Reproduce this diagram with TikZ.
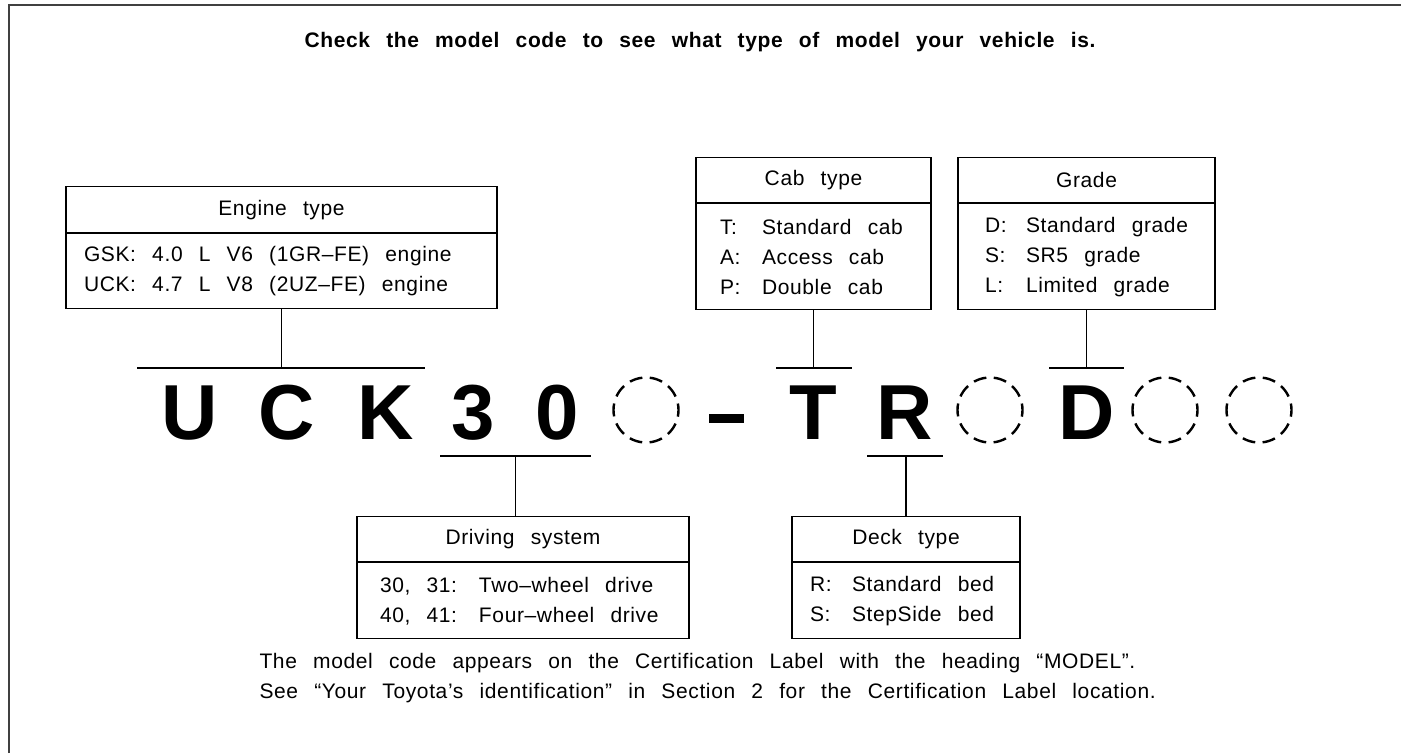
\documentclass[tikz,border=0pt]{standalone}
\usepackage{fontspec}
\setmainfont{Liberation Sans}
\newfontfamily\labelfont[LetterSpace=3,WordSpace=2.5]{Liberation Sans}
\usetikzlibrary{positioning}

\newcommand\keycol[2]{\makebox[#1][l]{#2}}

\begin{document}
\begin{tikzpicture}[
    x=1pt, y=-1pt,
    every node/.style={font=\fontsize{21}{30}\labelfont},
    headbox/.style={rectangle, draw, line width=1.2pt, inner sep=0pt, anchor=north, text centered},
    bodybox/.style={rectangle, draw, line width=1.2pt, anchor=north, align=flush left, inner ysep=0pt},
    codechar/.style={inner sep=0pt, anchor=base, font=\fontsize{78}{78}\normalfont\bfseries},
    slot/.style={circle, minimum size=65pt, inner sep=0pt, line width=2.4pt, dash pattern=on 13pt off 7.4pt, dash phase=6.5pt},
    link/.style={line width=1.2pt}
]
\useasboundingbox (0,0) rectangle (1401,753);

% frame
\draw[line width=2pt, black!75] (9,753) -- (9,5) -- (1401,5);

\node[font=\fontsize{21}{24}\labelfont\bfseries] (title) at (700,42) {Check the model code to see what type of model your vehicle is.};

% model code
\node[codechar] (cU) at (190,439) {U};
\node[codechar] (cC) at (287,439) {C};
\node[codechar] (cK) at (386,439) {K};
\node[codechar] (c3) at (473,439) {3};
\node[codechar] (c0) at (557,439) {0};
\node[slot, draw] (slotA) at (646,410) {};
\node[fill=black, minimum width=35pt, minimum height=9pt, inner sep=0pt] (dash) at (726,418) {};
\node[codechar] (cT) at (813,439) {T};
\node[codechar] (cR) at (905,439) {R};
\node[slot, draw] (slotB) at (990,410) {};
\node[codechar] (cD) at (1087,439) {D};
\node[slot, draw] (slotC) at (1165,410) {};
\node[slot, draw] (slotD) at (1259,410) {};

% boxes above
\node[headbox, minimum width=431pt, minimum height=46pt] (engHead) at (281.5,186) {Engine type};
\node[bodybox, minimum height=75pt, inner xsep=18pt, text width=395pt] (engBody) at (engHead.south) {GSK: 4.0 L V6 (1GR–FE) engine\\UCK: 4.7 L V8 (2UZ–FE) engine};

\node[headbox, minimum width=235pt, minimum height=45pt] (cabHead) at (813.5,157) {Cab type};
\node[bodybox, minimum height=106pt, inner xsep=24pt, text width=187pt] (cabBody) at (cabHead.south) {\keycol{42pt}{T:}Standard cab\\\keycol{42pt}{A:}Access cab\\\keycol{42pt}{P:}Double cab};

\node[headbox, minimum width=257pt, minimum height=45pt] (gradeHead) at (1086.5,157) {Grade};
\node[bodybox, minimum height=106pt, inner xsep=27pt, text width=203pt] (gradeBody) at (gradeHead.south) {\keycol{41pt}{D:}Standard grade\\\keycol{41pt}{S:}SR5 grade\\\keycol{41pt}{L:}Limited grade};

% boxes below
\node[headbox, minimum width=332pt, minimum height=45pt] (driveHead) at (523,516) {Driving system};
\node[bodybox, minimum height=76pt, inner xsep=23pt, text width=286pt] (driveBody) at (driveHead.south) {\keycol{99pt}{30, 31:}Two–wheel drive\\\keycol{99pt}{40, 41:}Four–wheel drive};

\node[headbox, minimum width=228pt, minimum height=45pt] (deckHead) at (906,516) {Deck type};
\node[bodybox, minimum height=76pt, inner xsep=18pt, text width=192pt] (deckBody) at (deckHead.south) {\keycol{42pt}{R:}Standard bed\\\keycol{42pt}{S:}StepSide bed};

% bars over the code
\coordinate (engL) at (137,368);   \coordinate (engR) at (425,368);
\coordinate (cabL) at (776,368);   \coordinate (cabR) at (852,368);
\coordinate (gradeL) at (1049,368); \coordinate (gradeR) at (1124,368);
\coordinate (driveL) at (440,456); \coordinate (driveR) at (591,456);
\coordinate (driveM) at (515.5,456);
\coordinate (deckL) at (867,456);  \coordinate (deckR) at (943,456);

\draw[link] (engL) -- (engR);
\draw[link] (cabL) -- (cabR);
\draw[link] (gradeL) -- (gradeR);
\draw[link] (driveL) -- (driveR);
\draw[link] (deckL) -- (deckR);

\draw[link] (engBody.south) -- (engBody.south |- engL);
\draw[link] (cabBody.south) -- (cabBody.south |- cabL);
\draw[link] (gradeBody.south) -- (gradeBody.south |- gradeL);
\draw[link] (driveM) -- (driveM |- driveHead.north);
\draw[link] (deckHead.north) -- (deckHead.north |- deckL);

\node[align=left, anchor=west] (note) at (256,678) {The model code appears on the Certification Label with the heading “MODEL”.\\See “Your Toyota’s identification” in Section 2 for the Certification Label location.};

\end{tikzpicture}
\end{document}
